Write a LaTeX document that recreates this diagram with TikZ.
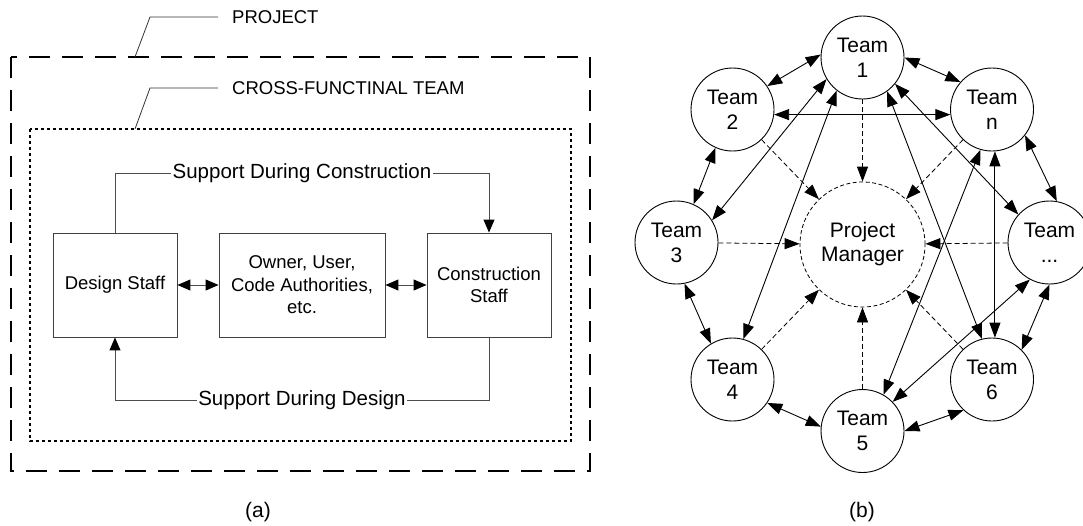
\documentclass[tikz,border=0pt]{standalone}
\usepackage{fontspec}
\setmainfont{Liberation Sans}
\usetikzlibrary{arrows.meta}

\begin{document}
\begin{tikzpicture}[x=1pt,y=-1pt,
  bigtip/.tip={Triangle[length=15pt,width=11pt]},
  smalltip/.tip={Triangle[length=13pt,width=11pt,color=black]},
  boxstyle/.style={draw=black!75,line width=0.9pt,minimum width=124pt,minimum height=104pt,
    inner sep=0pt,align=center,font=\fontsize{18.5}{22.5}\selectfont},
  flow/.style={draw=black!70,line width=1pt},
  onlabel/.style={fill=white,inner sep=1.5pt,font=\fontsize{20.5}{24}\selectfont},
  caplabel/.style={anchor=west,inner sep=0pt,font=\fontsize{18.5}{22}\selectfont},
  leader/.style={draw=black!80,line width=0.8pt},
  team/.style={circle,draw,line width=0.9pt,minimum size=83pt,inner sep=0pt,align=center,
    font=\fontsize{21}{25}\selectfont,fill=white},
  link/.style={line width=0.9pt,{bigtip}-{bigtip}},
  report/.style={line width=0.8pt,dash pattern=on 5pt off 3pt,-{bigtip}},
  sublabel/.style={font=\fontsize{21}{24}\selectfont}]

\useasboundingbox (0,0) rectangle (1083,525);

% ---------- (a) organisation of the project ----------
\draw[line width=2.8pt,dash pattern=on 21pt off 12pt] (11,57) rectangle (590,471);
\draw[line width=2.2pt,dash pattern=on 3pt off 3pt] (30,129) rectangle (571,441);

\coordinate (pa) at (135,57);
\coordinate (pb) at (150,17);
\coordinate (pc) at (218,17);
\node[caplabel] (projlbl) at (232,17) {PROJECT};
\draw[leader] (pa) -- (pb) -- (pc);

\coordinate (ca) at (135,129);
\coordinate (cb) at (150,88);
\coordinate (cc) at (218,88);
\node[caplabel] (cftlbl) at (232,88) {CROSS-FUNCTINAL TEAM};
\draw[leader] (ca) -- (cb) -- (cc);

\node[boxstyle] (design) at (115,285) {Design Staff};
\node[boxstyle,minimum width=166pt] (owner) at (302,285) {Owner, User,\\Code Authorities,\\etc.};
\node[boxstyle] (constr) at (489,285) {Construction\\Staff};

\draw[flow,{smalltip}-{smalltip}] (design.east) -- (owner.west);
\draw[flow,{smalltip}-{smalltip}] (owner.east) -- (constr.west);

\coordinate (sc1) at (115,173);
\coordinate (sc2) at (489,173);
\draw[flow,-{smalltip}] (design.north) -- (sc1) -- (sc2) -- (constr.north);
\node[onlabel] (sdc) at (302,173) {Support During Construction};

\coordinate (sd1) at (489,400);
\coordinate (sd2) at (115,400);
\draw[flow,-{smalltip}] (constr.south) -- (sd1) -- (sd2) -- (design.south);
\node[onlabel] (sdd) at (302,400) {Support During Design};

\node[sublabel] (labela) at (258,512) {(a)};

% ---------- (b) network of teams round the project manager ----------
\node[circle,draw,line width=0.8pt,dash pattern=on 4pt off 2.5pt,minimum size=125pt,inner sep=0pt,
  align=center,font=\fontsize{21}{24}\selectfont] (pm) at (862.5,244.5) {Project\\Manager};

\node[team] (t1) at (862.5,57.5) {Team\\1};
\node[team] (t2) at (732.5,109.5) {Team\\2};
\node[team] (tn) at (992,109.5) {Team\\n};
\node[team] (t3) at (676.5,242.5) {Team\\3};
\node[team] (tx) at (1049.5,242.5) {Team\\...};
\node[team] (t4) at (732.5,379.5) {Team\\4};
\node[team] (t6) at (992,379.5) {Team\\6};
\node[team] (t5) at (862.5,431) {Team\\5};

% reporting lines to the project manager
\foreach \t in {t1,t2,tn,t3,tx,t4,t6,t5}
  \draw[report] (\t) -- (pm);

% links between neighbouring teams
\draw[link] (t1.176) -- (t2.34);
\draw[link] (t1.0) -- (tn.139);
\draw[link] (t2.246) -- (t3.66);
\draw[link] (tn.-38) -- (tx.80);
\draw[link] (t3.281) -- (t4.121);
\draw[link] (t4.-34) -- (t5.174);
\draw[link] (t5.0) -- (t6.227);
\draw[link] (tx.270) -- (t6.45);

% links across the ring
\draw[link] (t2.-7.5) -- (tn.187.5);
\draw[link] (t1.211) -- (t3.32);
\draw[link] (t1.232) -- (t4.75);
\draw[link] (t1.-54) -- (t6.104);
\draw[link] (t1.-39) -- (tx.138);
\draw[link] (tn.254) -- (t5.60);
\draw[link] (tn.274) -- (t6.86);
\draw[link] (tx.242) -- (t5.44);

\node[sublabel] (labelb) at (862,512) {(b)};
\end{tikzpicture}
\end{document}
